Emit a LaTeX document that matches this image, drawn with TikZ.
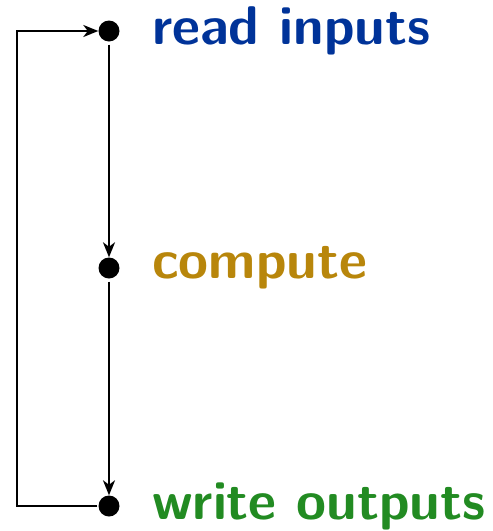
\documentclass[tikz,border=0pt]{standalone}
\usetikzlibrary{arrows.meta}
\definecolor{cblue}{RGB}{0,51,153}
\definecolor{cgold}{RGB}{184,134,11}
\definecolor{cgreen}{RGB}{34,139,34}
\begin{document}
\begin{tikzpicture}[x=1pt,y=-1pt,
  dot/.style={circle,fill=black,inner sep=0pt,minimum size=21pt},
  lbl/.style={anchor=west,inner sep=0pt,font=\fontsize{54.5}{60}\selectfont\sffamily\bfseries},
  conn/.style={line width=2.4pt,-{Stealth[length=15pt,width=12pt,inset=4.5pt]}}]
\useasboundingbox (0,0) rectangle (493,531);
\node[dot] (a) at (109,31) {};
\node[dot] (b) at (109,268) {};
\node[dot] (c) at (109,506) {};
\node[lbl,text=cblue] (ta) at (152,31) {read inputs};
\node[lbl,text=cgold] (tb) at (152,268) {compute};
\node[lbl,text=cgreen] (tc) at (152,506) {write outputs};
\coordinate (l1) at (17,506);
\coordinate (l2) at (17,31);
\draw[conn,shorten <=3pt] (a) -- (b);
\draw[conn,shorten <=3pt] (b) -- (c);
\draw[conn,shorten <=1pt] (c) -- (l1) -- (l2) -- (a);
\end{tikzpicture}
\end{document}
